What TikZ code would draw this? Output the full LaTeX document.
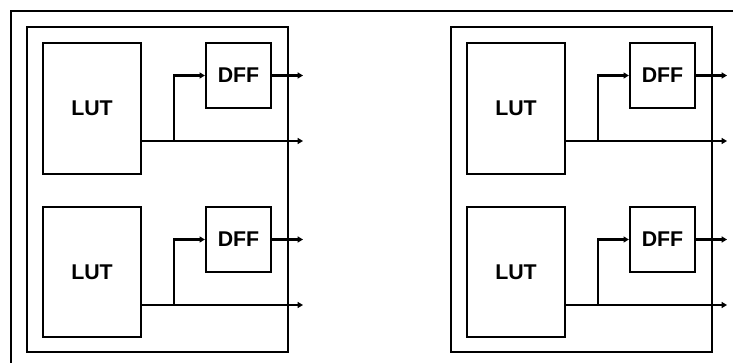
\documentclass[tikz,border=0pt]{standalone}
\usepackage{fontspec}
\setmainfont{Liberation Sans}
\usetikzlibrary{arrows.meta}

\tikzset{
  lutbox/.style={draw, line width=1.7pt, inner sep=0pt,
    minimum width=73.5pt, minimum height=98pt, font=\fontsize{16}{18}\selectfont\bfseries},
  dffbox/.style={draw, line width=1.7pt, inner sep=0pt,
    minimum width=48.75pt, minimum height=48.75pt, font=\fontsize{16}{18}\selectfont\bfseries},
  wire/.style={line width=1.7pt, -{Triangle[length=4pt,width=4.5pt]}}
}
\newcommand{\boxtext}[1]{\raisebox{-2.2pt}{#1}}

\begin{document}
\begin{tikzpicture}[x=0.75pt,y=-0.75pt]

\useasboundingbox (0,0) rectangle (733,363);

\begin{scope}[line width=1.7pt]
\draw (11,363) -- (11,11) -- (733,11);
\draw (27,27) rectangle (288,352);
\draw (451,27) rectangle (712,352);
\end{scope}

% left cell
\node[lutbox] (lua) at (92,108.5) {\boxtext{LUT}};
\node[lutbox] (lub) at (92,272) {\boxtext{LUT}};
\node[dffbox] (dfa) at (238.5,75.5) {\boxtext{DFF}};
\node[dffbox] (dfb) at (238.5,239.5) {\boxtext{DFF}};

% right cell
\node[lutbox] (luc) at (516,108.5) {\boxtext{LUT}};
\node[lutbox] (lud) at (516,272) {\boxtext{LUT}};
\node[dffbox] (dfc) at (662.5,75.5) {\boxtext{DFF}};
\node[dffbox] (dfd) at (662.5,239.5) {\boxtext{DFF}};

\coordinate (ba) at (174,141);
\coordinate (bb) at (174,305);
\coordinate (bc) at (598,141);
\coordinate (bd) at (598,305);

\coordinate (qa) at (303,141);
\coordinate (qb) at (303,305);
\coordinate (qc) at (727,141);
\coordinate (qd) at (727,305);

\coordinate (ra) at (303,75.5);
\coordinate (rb) at (303,239.5);
\coordinate (rc) at (727,75.5);
\coordinate (rd) at (727,239.5);

\begin{scope}[wire]
\draw (lua.east |- qa) -- (qa);
\draw (lub.east |- qb) -- (qb);
\draw (luc.east |- qc) -- (qc);
\draw (lud.east |- qd) -- (qd);

\draw (ba) |- (dfa.west);
\draw (bb) |- (dfb.west);
\draw (bc) |- (dfc.west);
\draw (bd) |- (dfd.west);

\draw (dfa.east) -- (ra);
\draw (dfb.east) -- (rb);
\draw (dfc.east) -- (rc);
\draw (dfd.east) -- (rd);
\end{scope}

\end{tikzpicture}
\end{document}
